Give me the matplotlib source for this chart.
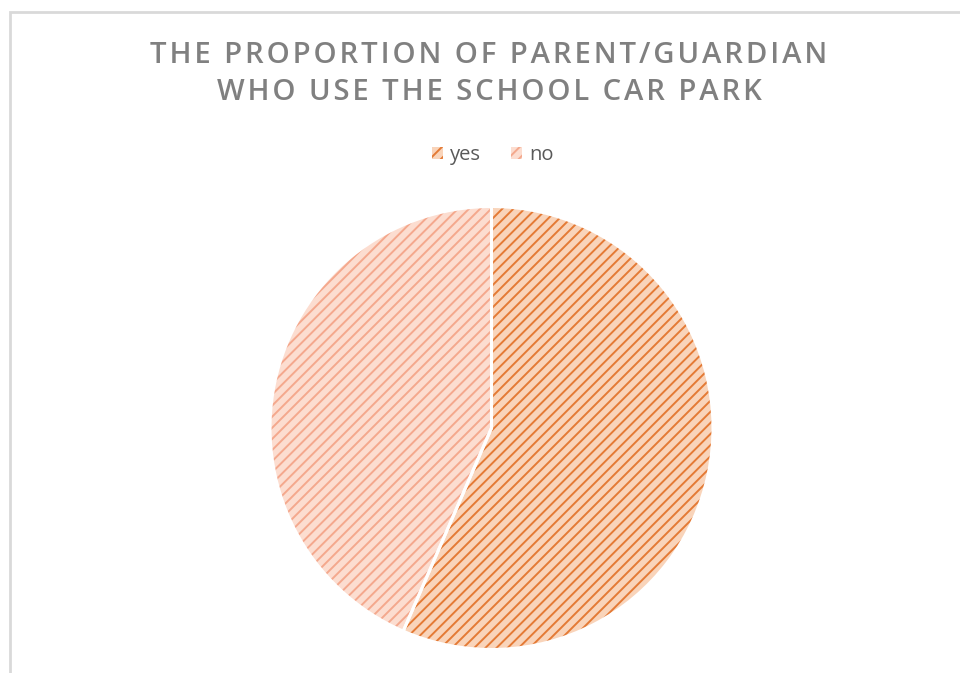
import matplotlib
matplotlib.use("Agg")
import matplotlib.pyplot as plt
from matplotlib.patches import Rectangle

labels = ["yes", "no"]
counts = [13, 10]
title_lines = ["THE PROPORTION OF PARENT/GUARDIAN", "WHO USE THE SCHOOL CAR PARK"]

face_colors = ["#F9D4BA", "#FCDDD0"]
hatch_colors = ["#E47A35", "#F4A88D"]

W, H = 960, 673
fig = plt.figure(figsize=(W / 100, H / 100), dpi=100)

# light grey chart frame, cut off at right/bottom like the screenshot
fig.patches.append(Rectangle((10 / W, -0.1), 1.2, 1 - 12 / H + 0.1, transform=fig.transFigure,
                             fill=False, edgecolor="#D9D9D9", linewidth=2))

def spaced(s):
    return "\u200a".join(s)

title = "\n".join(spaced(t) for t in title_lines)
fig.text(489 / W, 1 - 74 / H, title, ha="center", va="center", fontsize=21.1,
         family=["Open Sans", "DejaVu Sans"], weight="semibold", color="#808080",
         linespacing=1.37)

cx, cy, r = 491.5, 428, 221.5
ax = fig.add_axes([(cx - r) / W, (H - cy - r) / H, 2 * r / W, 2 * r / H])
ax.set_aspect("equal")
plt.rcParams["hatch.linewidth"] = 1.4
wedges, _ = ax.pie(counts, startangle=90, counterclock=False, radius=1,
                   colors=face_colors, wedgeprops=dict(linewidth=0))
for w, hc in zip(wedges, hatch_colors):
    w.set_hatch("///")
    w.set_edgecolor(hc)
    w.set_linewidth(0)
    w.set_clip_on(False)
# white separator lines between slices
sep, _ = ax.pie(counts, startangle=90, counterclock=False, radius=1,
                colors=["none", "none"], wedgeprops=dict(linewidth=2.2, edgecolor="white"))
for w in sep:
    w.set_clip_on(False)
ax.set_xlim(-1, 1)
ax.set_ylim(-1, 1)
ax.axis("off")

leg = fig.legend(wedges, labels, loc="center", bbox_to_anchor=(493 / W, 1 - 155 / H), ncol=2,
                 frameon=False, handlelength=0.55, handleheight=0.55,
                 handletextpad=0.35, columnspacing=1.5, prop=dict(family="Open Sans", size=14.5))
for t in leg.get_texts():
    t.set_color("#595959")

fig.savefig("out.png", dpi=100)
